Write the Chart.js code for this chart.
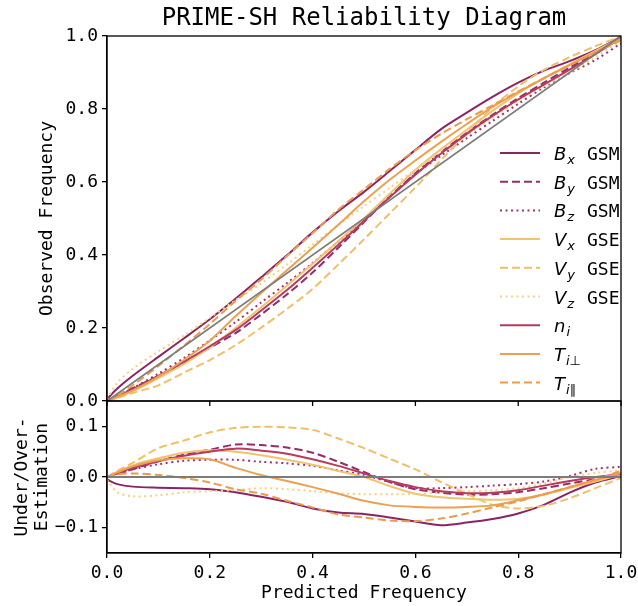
<!DOCTYPE html>
<html>
<head>
<meta charset="utf-8">
<script src="https://cdn.jsdelivr.net/npm/chart.js@4.4.1/dist/chart.umd.min.js"></script>
<style>
  html, body { margin: 0; padding: 0; background: #fff; }
  #wrap { position: relative; width: 638px; height: 606px; }
</style>
</head>
<body>
<div id="wrap"><canvas id="myChart" width="638" height="606"></canvas></div>
<script>
// predicted frequency (x) shared by every curve
const predicted = [0, 0.02, 0.05, 0.1, 0.15, 0.2, 0.25, 0.3, 0.35, 0.4, 0.45, 0.5, 0.55, 0.6, 0.65, 0.7, 0.75, 0.8, 0.85, 0.9, 0.95, 1];

// top panel: observed frequency
const obsBx    = [0.005, 0.034, 0.069, 0.121, 0.172, 0.224, 0.280, 0.339, 0.399, 0.462, 0.520, 0.573, 0.630, 0.688, 0.745, 0.790, 0.833, 0.872, 0.905, 0.931, 0.961, 0.998];
const obsBy    = [0, 0.014, 0.035, 0.069, 0.106, 0.146, 0.186, 0.237, 0.292, 0.352, 0.420, 0.490, 0.560, 0.624, 0.681, 0.735, 0.784, 0.830, 0.872, 0.913, 0.954, 0.994];
const obsBz    = [0, 0.014, 0.035, 0.075, 0.118, 0.166, 0.216, 0.270, 0.323, 0.378, 0.437, 0.496, 0.560, 0.622, 0.672, 0.720, 0.767, 0.814, 0.859, 0.898, 0.934, 0.980];
const obsVx    = [0, 0.010, 0.027, 0.063, 0.102, 0.147, 0.200, 0.257, 0.316, 0.376, 0.438, 0.500, 0.568, 0.633, 0.690, 0.743, 0.795, 0.843, 0.885, 0.922, 0.959, 0.995];
const obsVy    = [0, 0.008, 0.022, 0.043, 0.078, 0.112, 0.153, 0.201, 0.252, 0.307, 0.374, 0.443, 0.514, 0.585, 0.660, 0.733, 0.805, 0.862, 0.907, 0.942, 0.972, 1.000];
const obsVz    = [0.005, 0.050, 0.088, 0.136, 0.180, 0.228, 0.276, 0.322, 0.374, 0.428, 0.482, 0.534, 0.584, 0.634, 0.680, 0.728, 0.776, 0.822, 0.863, 0.900, 0.942, 0.987];
const obsNi    = [0, 0.013, 0.032, 0.069, 0.108, 0.150, 0.194, 0.248, 0.304, 0.365, 0.428, 0.493, 0.558, 0.620, 0.678, 0.732, 0.781, 0.826, 0.867, 0.908, 0.950, 0.994];
const obsTperp = [0, 0.011, 0.029, 0.067, 0.113, 0.165, 0.232, 0.296, 0.358, 0.420, 0.483, 0.547, 0.606, 0.659, 0.710, 0.759, 0.806, 0.846, 0.884, 0.920, 0.956, 0.992];
const obsTpar  = [0, 0.015, 0.043, 0.096, 0.152, 0.211, 0.274, 0.333, 0.397, 0.460, 0.524, 0.580, 0.636, 0.687, 0.732, 0.772, 0.810, 0.848, 0.884, 0.920, 0.955, 0.988];

// bottom panel: under/over-estimation
const diffBx    = [-0.005, -0.014, -0.019, -0.021, -0.022, -0.024, -0.030, -0.039, -0.049, -0.062, -0.070, -0.073, -0.080, -0.088, -0.095, -0.090, -0.083, -0.072, -0.055, -0.031, -0.011, 0.002];
const diffBy    = [0, 0.006, 0.015, 0.031, 0.044, 0.054, 0.064, 0.063, 0.058, 0.048, 0.030, 0.010, -0.010, -0.024, -0.031, -0.035, -0.034, -0.030, -0.022, -0.013, -0.004, 0.006];
const diffBz    = [0, 0.006, 0.015, 0.025, 0.032, 0.034, 0.034, 0.030, 0.027, 0.022, 0.013, 0.004, -0.010, -0.022, -0.022, -0.020, -0.017, -0.014, -0.009, 0.002, 0.016, 0.020];
const diffVx    = [0, 0.010, 0.023, 0.037, 0.048, 0.053, 0.050, 0.043, 0.034, 0.024, 0.012, 0.000, -0.018, -0.033, -0.040, -0.043, -0.045, -0.043, -0.035, -0.022, -0.009, 0.005];
const diffVy    = [0, 0.012, 0.028, 0.057, 0.072, 0.088, 0.097, 0.099, 0.098, 0.093, 0.076, 0.057, 0.036, 0.015, -0.010, -0.033, -0.055, -0.062, -0.057, -0.042, -0.022, -0.002];
const diffVz    = [-0.005, -0.030, -0.038, -0.036, -0.030, -0.028, -0.026, -0.022, -0.024, -0.028, -0.032, -0.034, -0.034, -0.034, -0.030, -0.028, -0.026, -0.022, -0.013, 0.000, 0.008, 0.013];
const diffNi    = [0, 0.007, 0.018, 0.031, 0.042, 0.050, 0.056, 0.052, 0.046, 0.035, 0.022, 0.007, -0.008, -0.020, -0.028, -0.032, -0.031, -0.026, -0.017, -0.008, 0.000, 0.006];
const diffTperp = [0, 0.009, 0.021, 0.033, 0.037, 0.035, 0.018, 0.004, -0.008, -0.020, -0.033, -0.047, -0.056, -0.059, -0.060, -0.059, -0.056, -0.046, -0.034, -0.020, -0.006, 0.008];
const diffTpar  = [0, 0.005, 0.007, 0.004, -0.002, -0.011, -0.024, -0.033, -0.047, -0.060, -0.074, -0.080, -0.086, -0.087, -0.082, -0.072, -0.060, -0.048, -0.034, -0.020, -0.005, 0.012];

// reference lines
const diagX = [0, 1];
const diagY = [0, 1];
const zeroY = [0, 0];

// legend text pieces
const legendMain   = ['B', 'B', 'B', 'V', 'V', 'V', 'n', 'T', 'T'];
const legendSub    = ['x', 'y', 'z', 'x', 'y', 'z', 'i', 'i\u22A5', 'i\u2225'];
const legendSuffix = ['GSM', 'GSM', 'GSM', 'GSE', 'GSE', 'GSE', '', '', ''];

const xTicks = [0, 0.2, 0.4, 0.6, 0.8, 1.0];
const yTopTicks = [0, 0.2, 0.4, 0.6, 0.8, 1.0];
const yBotTicks = [-0.1, 0, 0.1];

const observed = [obsBx, obsBy, obsBz, obsVx, obsVy, obsVz, obsNi, obsTperp, obsTpar];
const under = [diffBx, diffBy, diffBz, diffVx, diffVy, diffVz, diffNi, diffTperp, diffTpar];

const colors = ['#8b2465', '#962c6a', '#9d3471', '#f2c36f', '#f0c066', '#f6d185', '#b83a5e', '#eca152', '#ec9b4b'];
const dashes = [[], [8, 4], [2, 3.5], [], [8, 4], [2, 3.5], [], [], [8, 4]];

const MONO = '"DejaVu Sans Mono", monospace';
Chart.defaults.font.family = MONO;
Chart.defaults.color = '#000';

function pts(xs, ys) {
  return xs.map((x, i) => ({ x: x, y: ys[i] }));
}

function fmt(v) {
  if (Math.abs(v) < 1e-9) return '0.0';
  return v.toFixed(1).replace('-', '\u2212');
}

const datasets = [];
observed.forEach((ys, i) => {
  datasets.push({
    data: pts(predicted, ys), yAxisID: 'y',
    borderColor: colors[i], borderDash: dashes[i], borderWidth: 2,
    pointRadius: 0, tension: 0.3, fill: false, order: 10 - i
  });
});
under.forEach((ys, i) => {
  datasets.push({
    data: pts(predicted, ys), yAxisID: 'y2',
    borderColor: colors[i], borderDash: dashes[i], borderWidth: 2,
    pointRadius: 0, tension: 0.3, fill: false, order: 10 - i
  });
});
datasets.push({ data: pts(diagX, diagY), yAxisID: 'y', borderColor: '#7c7c7c', borderWidth: 1.8, pointRadius: 0, order: 0 });
datasets.push({ data: pts(diagX, zeroY), yAxisID: 'y2', borderColor: '#7c7c7c', borderWidth: 2, pointRadius: 0, order: 0 });

// boxes around both panels, plus the top panel's x ticks hanging below it
const framePlugin = {
  id: 'frame',
  afterDraw(chart) {
    const { ctx, chartArea, scales } = chart;
    ctx.save();
    ctx.strokeStyle = '#000';
    ctx.lineWidth = 1.3;
    ['y', 'y2'].forEach(id => {
      const s = scales[id];
      ctx.strokeRect(chartArea.left, s.top, chartArea.right - chartArea.left, s.bottom - s.top);
    });
    const yb = scales.y.bottom;
    ctx.beginPath();
    xTicks.forEach(v => {
      const px = scales.x.getPixelForValue(v);
      ctx.moveTo(px, yb);
      ctx.lineTo(px, yb + 5);
    });
    ctx.stroke();
    ctx.restore();
  }
};

// legend with italic symbols and subscripts
const legendPlugin = {
  id: 'mathLegend',
  afterDraw(chart) {
    const { ctx, chartArea } = chart;
    const x0 = chartArea.right - 121;
    const y0 = chartArea.top + 117;
    const step = 28.7;
    ctx.save();
    legendMain.forEach((m, i) => {
      const y = y0 + i * step;
      ctx.strokeStyle = colors[i];
      ctx.lineWidth = 2;
      ctx.setLineDash(dashes[i]);
      ctx.beginPath();
      ctx.moveTo(x0, y);
      ctx.lineTo(x0 + 40, y);
      ctx.stroke();
      ctx.setLineDash([]);
      ctx.fillStyle = '#000';
      ctx.textBaseline = 'alphabetic';
      ctx.textAlign = 'left';
      let tx = x0 + 54;
      ctx.font = 'italic 18px "DejaVu Sans"';
      ctx.fillText(m, tx, y + 7);
      tx += ctx.measureText(m).width + 1;
      for (const ch of legendSub[i]) {
        ctx.font = /[a-z]/.test(ch) ? 'italic 13px "DejaVu Sans"' : '13px "DejaVu Sans"';
        ctx.fillText(ch, tx, y + 11);
        tx += ctx.measureText(ch).width;
      }
      if (legendSuffix[i]) {
        ctx.font = '18px ' + MONO;
        ctx.fillText(legendSuffix[i], x0 + 87, y + 7);
      }
    });
    ctx.restore();
  }
};

const axisGrid = { display: true, drawOnChartArea: false, drawTicks: true, tickLength: 5, color: '#000', lineWidth: 1.3 };
const axisBorder = { display: true, color: '#000', width: 1.3 };

const config = {
  type: 'line',
  data: { datasets: datasets },
  plugins: [framePlugin, legendPlugin],
  options: {
    responsive: false,
    animation: false,
    layout: { padding: { left: 0, right: 0, top: 0, bottom: 0 } },
    plugins: {
      legend: { display: false },
      tooltip: { enabled: false },
      title: {
        display: true, fullSize: false,
        text: 'PRIME-SH Reliability Diagram',
        font: { size: 24, weight: 'normal', lineHeight: 1 },
        color: '#000',
        padding: { top: 7, bottom: 5 }
      }
    },
    scales: {
      x: {
        type: 'linear', position: 'bottom', min: 0, max: 1,
        afterBuildTicks: s => { s.ticks = xTicks.map(v => ({ value: v })); },
        ticks: { font: { size: 18 }, color: '#000', padding: 5, maxRotation: 0, callback: v => fmt(v) },
        grid: axisGrid, border: axisBorder,
        title: { display: true, text: 'Predicted Frequency', font: { size: 18 }, color: '#000', padding: { top: 2, bottom: 2 } },
        afterFit: s => { s.height = 53; s.paddingRight = 17; }
      },
      y: {
        type: 'linear', position: 'left', stack: 'panels', stackWeight: 365, weight: 1, min: 0, max: 1,
        afterBuildTicks: s => { s.ticks = yTopTicks.map(v => ({ value: v })); },
        ticks: { font: { size: 18 }, color: '#000', padding: 4, callback: v => fmt(v) },
        grid: axisGrid, border: axisBorder,
        title: { display: true, text: 'Observed Frequency', font: { size: 18 }, color: '#000', padding: { top: 37 } },
        afterFit: s => { s.width = 107; }
      },
      y2: {
        type: 'linear', position: 'left', stack: 'panels', stackWeight: 152, weight: 0, min: -0.15, max: 0.15,
        afterBuildTicks: s => { s.ticks = yBotTicks.map(v => ({ value: v })); },
        ticks: { font: { size: 18 }, color: '#000', padding: 4, callback: v => fmt(v) },
        grid: axisGrid, border: axisBorder,
        title: { display: true, text: ['Under/Over-', 'Estimation'], font: { size: 18, lineHeight: 1.11 }, color: '#000', padding: { top: 12 } },
        afterFit: s => { s.width = 107; }
      }
    }
  }
};

const chart = new Chart(document.getElementById('myChart'), config);
</script>
</body>
</html>
